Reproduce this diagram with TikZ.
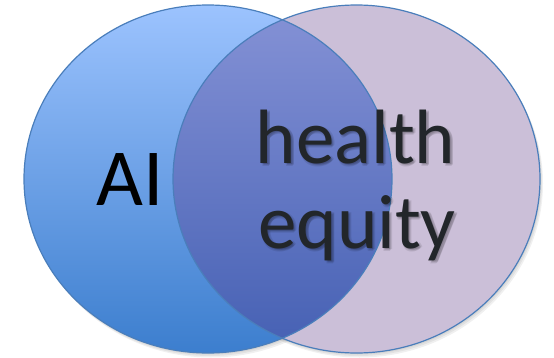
\documentclass[tikz,border=0pt]{standalone}
\usepackage{fontspec}
\setmainfont{Carlito}
\definecolor{lefttop}{HTML}{9CC3FE}
\definecolor{leftbot}{HTML}{3C7ECE}
\definecolor{righttone}{HTML}{CBBFD8}
\definecolor{midtop}{HTML}{8592D6}
\definecolor{midbot}{HTML}{4560B3}
\definecolor{rimblue}{HTML}{4A7EBB}
\definecolor{textdark}{HTML}{22262A}
\tikzset{
  rim/.style={draw=rimblue, line width=1.2pt},
  shadowring/.style={fill=black, opacity=0.06},
  bigword/.style={font=\fontsize{77}{82}\selectfont, text=textdark, inner sep=0pt, anchor=base},
  wordshadow/.style={font=\fontsize{77}{82}\selectfont, text=black, opacity=0.09, inner sep=0pt, anchor=base}
}
\begin{document}
\begin{tikzpicture}[x=1pt,y=1pt]
\useasboundingbox (0,0) rectangle (554,357);
% soft drop shadows
\foreach \d in {1,2,3} {
  \fill[shadowring] (208+\d,178-1.5*\d) ellipse [x radius=184, y radius=174];
  \fill[shadowring] (356.5+\d,178-1.5*\d) ellipse [x radius=183.5, y radius=174];
}
% left ellipse
\shade[top color=lefttop, bottom color=leftbot] (208,178) ellipse [x radius=184, y radius=174];
% right ellipse
\fill[righttone] (356.5,178) ellipse [x radius=183.5, y radius=174];
% intersection
\begin{scope}
  \clip (208,178) ellipse [x radius=184, y radius=174];
  \shade[top color=midtop, bottom color=midbot] (356.5,178) ellipse [x radius=183.5, y radius=174];
\end{scope}
\draw[rim] (208,178) ellipse [x radius=184, y radius=174];
\draw[rim] (356.5,178) ellipse [x radius=183.5, y radius=174];
% texts
\node[font=\fontsize{81}{86}\selectfont, text=black, inner sep=0pt, anchor=base] (ai) at (130,152) {AI};
\foreach \dx/\dy [count=\i] in {1/-1.5,2.5/-2.5,1.5/-3.5,3/-1.5} {
  \node[wordshadow] (healthshadow\i) at (355.5+\dx,194+\dy) {health};
  \node[wordshadow] (equityshadow\i) at (357+\dx,109+\dy) {equity};
}
\node[bigword] (health) at (355.5,194) {health};
\node[bigword] (equity) at (357,109) {equity};
\end{tikzpicture}
\end{document}
